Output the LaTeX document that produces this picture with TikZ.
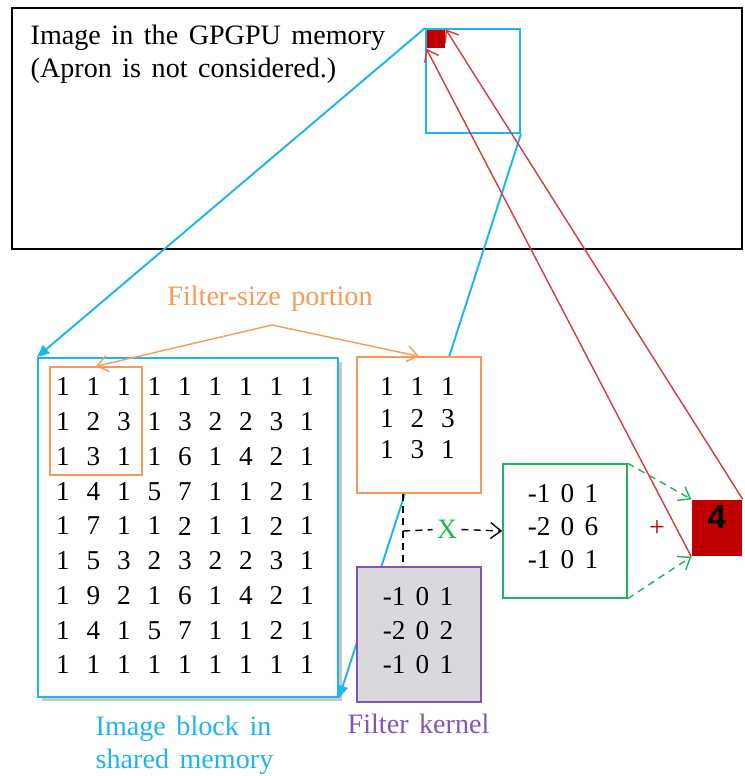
\documentclass[tikz,border=0pt]{standalone}
\usepackage{fontspec}
\setmainfont{Liberation Serif}[WordSpace=1.5]
\setsansfont{Liberation Sans}
\usetikzlibrary{fit,arrows.meta,shadows}
\definecolor{memblue}{HTML}{1CB5F0}
\definecolor{portorange}{HTML}{F79A56}
\definecolor{kerpurple}{HTML}{8055B8}
\definecolor{kergray}{HTML}{DAD8DD}
\definecolor{sumgreen}{HTML}{22B35A}
\definecolor{outred}{HTML}{C00000}
\definecolor{linered}{HTML}{D23C3C}
\tikzset{
  box/.style={draw, inner sep=0pt, line width=0.8pt},
  num/.style={inner sep=0pt, font=\fontsize{15.5}{18}\selectfont},
  lbl/.style={inner sep=0pt, font=\fontsize{16}{19}\selectfont},
  opentip/.style={-{Straight Barb[length=6pt,width=9pt]}},
  filltip/.style={-{Triangle[length=7pt,width=6pt]}},
  dashline/.style={dash pattern=on 4pt off 3pt},
}
\begin{document}
\begin{tikzpicture}[x=0.02cm, y=-0.02cm, line width=0.8pt]
\useasboundingbox (0,0) rectangle (744,776);
\node[box, fit={(12,8) (742,249)}] (mem) {};
\node[lbl, anchor=base west] (memtxt) at (30,45) {Image in the GPGPU memory};
\node[lbl, anchor=base west] (aprontxt) at (30,78) {(Apron is not considered.)};
\node[box, memblue, line width=1.1pt, fit={(426,29) (520,133)}] (blk) {};
\node[inner sep=0pt, fill=outred, fit={(427,30) (445,48)}] (pix) {};
\node[box, memblue, line width=1.1pt, fill=white, drop shadow={shadow xshift=2pt, shadow yshift=-2pt, fill=black!22, opacity=1}, fit={(38,358) (338,697)}] (img) {};
\draw[memblue, line width=1.1pt, filltip] (blk.north west) -- (img.north west);
\draw[memblue, line width=1.1pt, filltip] (blk.south east) -- (img.south east);
\foreach \row [count=\j from 0] in {{1,1,1,1,1,1,1,1,1},{1,2,3,1,3,2,2,3,1},{1,3,1,1,6,1,4,2,1},{1,4,1,5,7,1,1,2,1},{1,7,1,1,2,1,1,2,1},{1,5,3,2,3,2,2,3,1},{1,9,2,1,6,1,4,2,1},{1,4,1,5,7,1,1,2,1},{1,1,1,1,1,1,1,1,1}}
  \foreach \v [count=\i from 0] in \row
    \node[num] (g\j-\i) at ({63+30.5*\i},{387+34.75*\j}) {\v};
\node[box, portorange, fit={(50,367) (142,475)}] (win) {};
\node[box, portorange, fill=white, fit={(357,357) (481,493)}] (port) {};
\foreach \row [count=\j from 0] in {{1,1,1},{1,2,3},{1,3,1}}
  \foreach \v [count=\i from 0] in \row
    \node[num] (p\j-\i) at ({387+30.5*\i},{387+31.5*\j}) {\v};
\node[box, kerpurple, fill=kergray, fit={(357,567) (481,702)}] (ker) {};
\node[num] (k0) at (418,597) {-1 0 1};
\node[num] (k1) at (418,631) {-2 0 2};
\node[num] (k2) at (418,665) {-1 0 1};
\node[box, sumgreen, fit={(503,464) (627,598)}] (sum) {};
\node[num] (s0) at (563,494) {-1 0 1};
\node[num] (s1) at (563,527) {-2 0 6};
\node[num] (s2) at (563,560) {-1 0 1};
\node[inner sep=0pt, fill=outred, font=\fontsize{19}{22}\sffamily\bfseries, fit={(692,500) (742,556)}] (out) {4};
\node[lbl, text=portorange] (portlbl) at (270,299) {Filter-size portion};
\coordinate (fork) at (272,325);
\draw[portorange, opentip] (fork) -- (win.north);
\draw[portorange, opentip] (fork) -- (port.north);
\coordinate (split) at (403,531);
\node[lbl, text=sumgreen, fill=white, inner sep=2pt] (mult) at (447,529) {X};
\draw[dashline] (split |- port.south) -- (split |- ker.north);
\draw[dashline] (split) -- (mult);
\draw[dashline, opentip] (mult) -- (sum.west);
\draw[sumgreen, dashline, opentip] (sum.north east) -- (out.north west);
\draw[sumgreen, dashline, opentip] (sum.south east) -- (out.south west);
\node[lbl, text=outred] (plus) at (657,529) {+};
\draw[linered, opentip] (out.south west) -- (pix.south west);
\draw[linered, opentip] (out.north east) -- (pix.north east);
\node[lbl, text=memblue, anchor=base west] (imglbl) at (95,735) {Image block in};
\node[lbl, text=memblue, anchor=base west] (shmlbl) at (95,768) {shared memory};
\node[lbl, text=kerpurple, anchor=base west] (kerlbl) at (347,733) {Filter kernel};
\end{tikzpicture}
\end{document}
